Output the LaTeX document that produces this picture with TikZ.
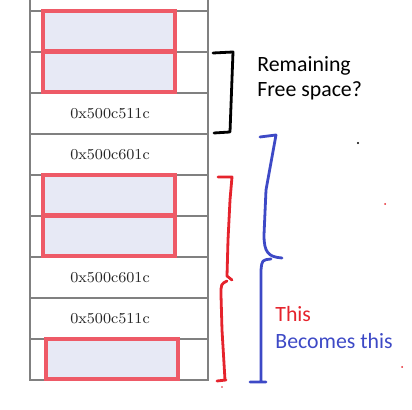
\documentclass[tikz,border=0pt]{standalone}
\usepackage{fontspec}
\newfontfamily\handfont{Carlito}
\usetikzlibrary{positioning}
\definecolor{slotred}{HTML}{EE5A67}
\definecolor{slotfill}{HTML}{E7E9F5}
\definecolor{penred}{HTML}{E5232C}
\definecolor{penblue}{HTML}{3D49C6}

\begin{document}
\begin{tikzpicture}[x=0.5pt, y=-0.5pt,
    cell/.style={draw=gray, line width=0.7pt, minimum width=89pt, minimum height=20.5pt, inner sep=0pt, outer sep=0pt},
    slot/.style={draw=slotred, line width=2pt, fill=slotfill, minimum width=66pt, minimum height=20pt, inner sep=0pt},
    addr/.style={text=black!85, font=\fontsize{7.6}{9}\selectfont, inner sep=0pt},
    note/.style={anchor=base west, inner sep=0pt, font=\handfont\fontsize{10.9}{13}\selectfont},
    pen/.style={line width=1.4pt, line cap=round, line join=round}]
    \useasboundingbox (0,0) rectangle (412,410);
    % memory stack
    \node[cell] (r1) at (119,31.5) {};
    \node[cell, below=0pt of r1] (r2) {};
    \node[cell, below=0pt of r2] (r3) {};
    \node[cell, below=0pt of r3] (r4) {};
    \node[cell, below=0pt of r4] (r5) {};
    \node[cell, below=0pt of r5] (r6) {};
    \node[cell, below=0pt of r6] (r7) {};
    \node[cell, below=0pt of r7] (r8) {};
    \node[cell, below=0pt of r8] (r9) {};
    \draw[gray, line width=0.7pt] (r1.north west) -- ++(0,-12) (r1.north east) -- ++(0,-12);
    % used slots
    \node[slot, xshift=-5pt] (s1) at (r1) {};
    \node[slot, xshift=-5pt] (s2) at (r2) {};
    \node[slot, xshift=-5pt] (s5) at (r5) {};
    \node[slot, xshift=-5pt] (s6) at (r6) {};
    \node[slot, xshift=-3.5pt] (s9) at (r9) {};
    % return addresses
    \node[addr, xshift=-4.5pt] (a3) at (r3) {0x500c511c};
    \node[addr, xshift=-4.5pt] (a4) at (r4) {0x500c601c};
    \node[addr, xshift=-4.5pt] (a7) at (r7) {0x500c601c};
    \node[addr, xshift=-4.5pt] (a8) at (r8) {0x500c511c};
    % hand-drawn braces
    \draw[pen] (213,53) -- (233,52) -- (230,132) -- (214,133);
    \draw[pen, penred] (218,177) -- (232,177) -- (230,200) -- (228,240) -- (227,276) -- (232,280)
        (227,281) .. controls (221,284) .. (221,295) -- (222,330) -- (225,380)
        (217,381) -- (226,380);
    \draw[pen, penblue] (260,137) -- (276,135) -- (266,190) -- (264,235)
        .. controls (264,252) and (268,257) .. (282,258)
        (271,259) .. controls (262,260) .. (261,270) -- (261,382)
        (250,382) -- (266,382);
    % labels
    \node[note] (free1) at (257,72) {Remaining};
    \node[note] (free2) at (257,97) {Free space?};
    \node[note, text=penred] (this) at (275,322) {This};
    \node[note, text=penblue] (becomes) at (275,349) {Becomes this};
    % stray pen marks
    \fill (358,143) circle (0.6pt);
    \fill[penred] (385,204) circle (0.5pt) (402,367) circle (0.5pt) (222,387) circle (0.4pt);
\end{tikzpicture}
\end{document}
